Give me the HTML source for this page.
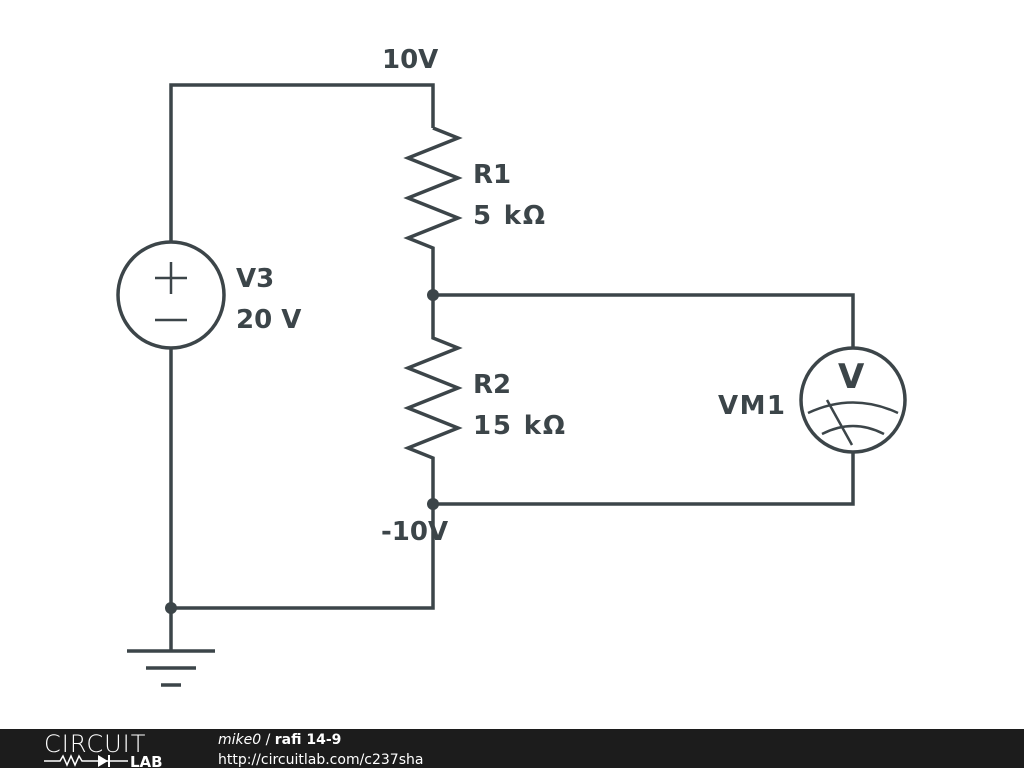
<!DOCTYPE html>
<html><head><style>
body{margin:0;width:1024px;height:768px;background:#fff;overflow:hidden;font-family:"DejaVu Sans","Liberation Sans",sans-serif}
</style></head><body>
<svg width="1024" height="768" style="position:absolute;left:0;top:0">
<g stroke="#3c4549" stroke-width="3.5" fill="none" stroke-linejoin="miter">
<polyline points="171,242 171,85 433,85 433,128"/>
<polyline points="433,128 458,138 408,158 458,178 408,198 458,218 408,238 433,248 433,338 458,348 408,368 458,388 408,408 458,428 408,448 433,458 433,608 171,608"/>
<line x1="171" y1="348" x2="171" y2="650"/>
<circle cx="171" cy="295" r="53"/>
<polyline points="433,295 853,295 853,348"/>
<polyline points="433,504 853,504 853,452"/>
<circle cx="853" cy="400" r="52"/>
<path d="M808,413 Q853,392 898,413" stroke-width="2.5"/>
<path d="M822,434 Q853,418 884,434" stroke-width="2.5"/>
<line x1="827" y1="400" x2="852" y2="445" stroke-width="2.5"/>
<line x1="127" y1="651" x2="215" y2="651"/>
<line x1="146" y1="668" x2="196" y2="668"/>
<line x1="161" y1="685" x2="181" y2="685"/>
<line x1="155" y1="278" x2="187" y2="278" stroke-width="2.5"/>
<line x1="171" y1="262" x2="171" y2="294" stroke-width="2.5"/>
<line x1="155" y1="320" x2="187" y2="320" stroke-width="2.5"/>
</g>
<g fill="#3c4549"><circle cx="433" cy="295" r="6"/><circle cx="433" cy="504" r="6"/><circle cx="171" cy="608" r="6"/></g>
<g fill="#3c4549" font-weight="bold" font-size="26" font-family="'DejaVu Sans','Liberation Sans',sans-serif">
<text x="382" y="68">10V</text>
<text x="473" y="183">R1</text>
<text x="473" y="224" textLength="72">5 kΩ</text>
<text x="236" y="287">V3</text>
<text x="236" y="328">20 V</text>
<text x="473" y="393">R2</text>
<text x="473" y="434" textLength="92">15 kΩ</text>
<text x="718" y="414" textLength="67">VM1</text>
<text x="838" y="388" font-size="34">V</text>
<text x="381" y="540">-10V</text>
</g>
<rect x="0" y="729" width="1024" height="39" fill="#1c1c1c"/>
<g fill="#fff" font-family="'DejaVu Sans','Liberation Sans',sans-serif">
<text x="44" y="752" font-size="24" font-weight="300" letter-spacing="1">CIRCUIT</text>
<text x="130" y="767" font-size="15" font-weight="bold">LAB</text>
<text x="218" y="744" font-size="14"><tspan font-style="italic">mike0</tspan> / <tspan font-weight="bold">rafi 14-9</tspan></text>
<text x="218" y="764" font-size="14">http://circuitlab.com/c237sha</text>
</g>
<polyline points="44,761 60,761 63,756 67,765 71,756 75,765 79,756 82,761 128,761" stroke="#fff" stroke-width="1.5" fill="none"/>
<polygon points="98,755 98,767 108,761" fill="#fff"/><line x1="109" y1="755" x2="109" y2="767" stroke="#fff" stroke-width="2"/>
</svg>
</body></html>
